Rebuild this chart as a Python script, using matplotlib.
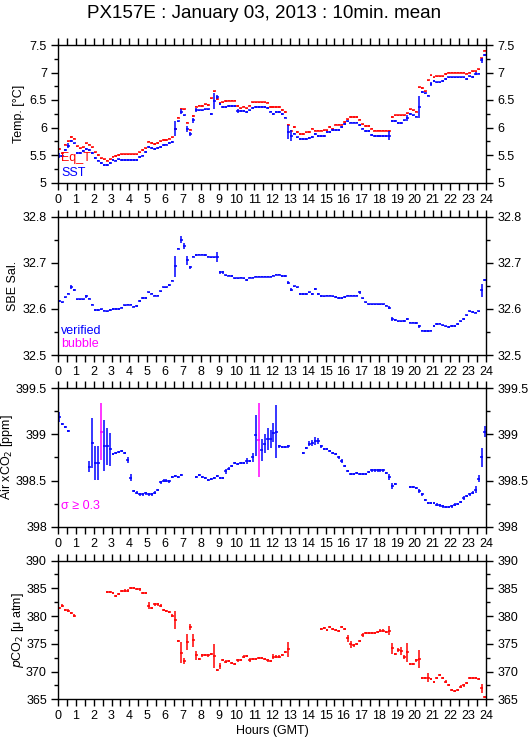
import numpy as np
import matplotlib
matplotlib.use('Agg')
import matplotlib.pyplot as plt
from matplotlib.ticker import MultipleLocator, FuncFormatter

plt.rcParams['font.family'] = ['Liberation Sans', 'DejaVu Sans']

nan = np.nan
title = 'PX157E : January 03, 2013 : 10min. mean'

# 10 min means, one value per bin (144 bins = 24 h)
eq_t = [5.61,5.53,5.69,5.75,5.83,5.80, 5.66,5.62,5.64,5.71,5.69,5.64,
        5.55,5.50,5.44,5.42,5.40,5.42, 5.47,5.48,5.50,5.51,5.51,5.51,
        5.51,5.51,5.51,5.55,5.59,5.62, 5.74,5.72,5.70,5.72,5.75,5.77,
        5.77,5.80,5.82,5.97,6.18,6.34, 6.33,6.09,5.96,6.21,6.38,6.40,
        6.39,6.42,6.41,6.53,6.66,6.51, 6.45,6.46,6.48,6.49,6.49,6.49,
        6.39,6.35,6.38,6.35,6.40,6.46, 6.46,6.46,6.46,6.46,6.45,6.37,
        6.37,6.37,6.37,6.32,6.28,6.05, 5.94,6.01,5.92,5.88,5.88,5.91,
        5.92,5.98,5.94,5.94,5.94,5.95, 5.95,6.01,5.98,6.05,6.05,6.05,
        6.10,6.15,6.19,6.19,6.19,6.14, 6.06,6.03,6.03,5.98,5.94,5.94,
        5.94,5.94,5.94,5.94,6.19,6.22, 6.22,6.22,6.22,6.26,6.33,6.31,
        6.29,6.73,6.72,6.66,6.86,6.95, 6.91,6.93,6.93,6.93,6.97,7.00,
        7.00,7.00,7.00,7.00,7.00,6.98, 7.00,7.02,7.02,7.06,7.26,7.40]
sst = [5.49,5.48,5.59,5.67,5.75,5.71, 5.54,5.54,5.57,5.61,5.59,5.54,
       5.45,5.40,5.36,5.32,5.32,5.36, 5.41,5.40,5.42,5.41,5.41,5.41,
       5.41,5.41,5.41,5.46,5.49,5.55, 5.65,5.63,5.61,5.63,5.65,5.68,
       5.69,5.72,5.74,5.98,6.11,6.29, 6.22,5.97,5.88,6.13,6.32,6.31,
       6.31,6.33,6.33,6.25,6.48,6.55, 6.43,6.37,6.37,6.39,6.39,6.39,
       6.30,6.30,6.30,6.28,6.31,6.36, 6.37,6.37,6.37,6.37,6.36,6.29,
       6.24,6.28,6.28,6.24,6.18,5.92, 5.85,5.89,5.82,5.79,5.79,5.79,
       5.81,5.83,5.88,5.85,5.85,5.85, 5.92,5.92,5.95,5.95,5.95,6.01,
       6.06,6.11,6.09,6.09,6.09,6.04, 5.98,5.94,5.94,5.86,5.85,5.85,
       5.85,5.85,5.85,5.85,6.12,6.12, 6.08,6.08,6.13,6.17,6.25,6.22,
       6.20,6.38,6.65,6.62,6.58,6.79, 6.85,6.82,6.82,6.85,6.88,6.91,
       6.91,6.91,6.91,6.91,6.91,6.88, 6.93,6.92,6.98,6.98,7.22,7.32]
sst_err = {0:0.05, 3:0.04, 39:0.14, 41:0.04, 43:0.05, 44:0.04, 45:0.05, 46:0.04,
           52:0.14, 53:0.04, 60:0.03, 77:0.12, 78:0.1, 111:0.08, 117:0.06,
           121:0.2, 125:0.03, 140:0.03, 142:0.05}

sal = [32.617,32.614,32.625,32.633,32.647,32.641, 32.621,32.621,32.621,32.627,32.622,32.609,
       32.598,32.598,32.599,32.596,32.595,32.598, 32.600,32.600,32.600,32.603,32.608,32.609,
       32.609,32.605,32.606,32.617,32.624,32.624, 32.636,32.633,32.629,32.629,32.638,32.647,
       32.647,32.652,32.661,32.692,32.731,32.750, 32.736,32.705,32.690,32.713,32.717,32.718,
       32.718,32.717,32.713,32.712,32.712,32.712, 32.679,32.679,32.673,32.672,32.671,32.666,
       32.666,32.668,32.666,32.663,32.668,32.668, 32.670,32.670,32.670,32.670,32.670,32.670,
       32.672,32.674,32.674,32.671,32.671,32.657, 32.642,32.649,32.647,32.632,32.632,32.632,
       32.636,32.632,32.643,32.632,32.628,32.627, 32.629,32.629,32.627,32.626,32.624,32.624,
       32.626,32.629,32.629,32.629,32.629,32.636, 32.623,32.614,32.610,32.610,32.610,32.610,
       32.610,32.610,32.607,32.603,32.578,32.576, 32.573,32.573,32.574,32.578,32.570,32.570,
       32.569,32.562,32.553,32.552,32.552,32.553, 32.563,32.567,32.568,32.564,32.562,32.561,
       32.563,32.563,32.567,32.573,32.578,32.586, 32.595,32.593,32.592,32.595,32.640,32.663]
sal_err = {0:0.003, 4:0.004, 9:0.003, 39:0.023, 41:0.008, 42:0.006, 43:0.01, 44:0.004,
           53:0.011, 54:0.004, 55:0.004, 77:0.004, 78:0.004, 86:0.003, 101:0.003,
           111:0.003, 112:0.004, 117:0.003, 121:0.004, 142:0.015}

xco2 = [399.19,399.11,399.08,399.04,nan,nan, nan,nan,nan,nan,398.65,398.91,
        398.69,398.69,399.03,398.88,398.87,398.84, 398.79,398.80,398.81,398.82,398.80,398.72,
        398.53,398.39,398.37,398.35,398.35,398.36, 398.35,398.35,398.37,398.40,398.48,398.50,
        398.50,398.49,398.54,398.55,398.54,398.56, nan,nan,nan,nan,398.54,398.56,
        398.54,398.53,398.51,398.52,398.53,398.55, 398.53,398.53,398.60,398.63,398.66,398.69,
        398.68,398.69,398.69,398.71,398.71,398.75, 398.99,398.94,398.83,398.90,398.95,398.95,
        399.02,399.03,398.87,398.86,398.86,398.87, nan,nan,nan,nan,398.80,398.85,
        398.90,398.91,398.93,398.93,398.87,398.84, 398.84,398.82,398.80,398.79,398.75,398.71,
        398.66,398.60,398.57,398.57,398.58,398.57, 398.57,398.57,398.59,398.61,398.61,398.61,
        398.61,398.61,398.58,398.54,398.44,398.46, nan,nan,nan,nan,398.43,398.43,
        398.42,398.39,398.35,398.29,398.26,398.26, 398.26,398.24,398.23,398.22,398.21,398.21,
        398.22,398.24,398.25,398.27,398.31,398.33, 398.35,398.37,398.40,398.52,398.75,399.03]
xco2_err = {0:0.05, 10:0.06, 11:0.27, 12:0.18, 13:0.18, 14:0.31, 15:0.28, 16:0.2, 17:0.18,
            23:0.03, 24:0.04, 34:0.02, 56:0.03, 63:0.03, 65:0.05, 66:0.22, 67:0.40,
            68:0.12, 69:0.1, 70:0.12, 71:0.1, 72:0.1, 73:0.29, 84:0.03, 85:0.03, 86:0.04,
            87:0.03, 95:0.02, 111:0.03, 112:0.03, 121:0.02, 136:0.02, 140:0.04,
            141:0.04, 142:0.1, 143:0.06}

pco2 = [381.5,381.9,381.1,381.0,380.5,380.1, nan,nan,nan,nan,nan,nan,
        nan,nan,nan,nan,384.3,384.3, 384.2,383.6,384.0,384.5,384.6,384.6,
        385.1,385.1,384.9,384.8,384.2,384.1, 381.9,381.5,382.1,382.1,381.9,381.1,
        380.9,380.7,380.1,379.3,375.5,373.4, 371.9,375.3,378.0,375.6,372.9,372.2,
        372.9,373.0,372.9,373.2,372.8,370.3, 371.0,372.1,371.8,371.9,371.5,371.4,
        372.0,372.1,372.7,372.8,372.1,372.3, 372.3,372.4,372.4,372.2,372.0,371.9,
        372.7,372.7,372.7,373.0,373.5,374.0, nan,nan,nan,nan,nan,nan,
        nan,nan,nan,nan,377.7,377.9, 377.5,378.0,377.7,377.5,377.3,378.1,
        377.7,376.0,374.9,374.7,375.0,375.5, 376.6,377.0,377.0,377.0,377.0,377.1,
        377.4,377.4,377.1,377.4,374.2,373.1, 373.9,373.7,372.6,373.5,371.4,371.4,
        372.0,372.2,368.9,368.9,368.9,368.7, 368.1,368.9,369.4,368.9,368.2,367.6,
        366.7,366.5,366.7,367.3,367.5,367.9, 368.8,368.8,368.8,368.7,367.0,365.4]
pco2_err = {1:0.3, 30:0.6, 39:1.6, 41:1.9, 42:0.6, 43:1.5, 44:0.5, 45:1.2, 46:0.8,
            52:2.1, 54:0.5, 62:0.3, 64:0.4, 72:0.4, 77:1.3, 97:0.6, 98:0.6, 102:0.3,
            111:0.9, 112:1.0, 114:0.4, 115:0.7, 116:0.4, 117:1.7, 121:1.6, 124:0.8, 142:0.8}

hours = np.arange(144) / 6.0 + 1 / 12.0


def errs(big, small):
    e = np.full(144, small)
    for k, v in big.items():
        e[k] = v
    return e


def draw(ax, vals, e, color, mask=None):
    y = np.array(vals, dtype=float)
    t = hours
    if mask is not None:
        y, t, e = y[mask], t[mask], e[mask]
    ax.errorbar(t, y, xerr=1 / 12.0, yerr=e, fmt='none', ecolor=color,
                elinewidth=1.1, capsize=0)


def setup(ax, lo, hi, major, minor, label, lx):
    ax.set_xlim(0, 24)
    ax.set_ylim(lo, hi)
    ax.xaxis.set_major_locator(MultipleLocator(1))
    ax.xaxis.set_minor_locator(MultipleLocator(0.5))
    ax.yaxis.set_major_locator(MultipleLocator(major))
    ax.yaxis.set_minor_locator(MultipleLocator(minor))
    ax.yaxis.set_major_formatter(FuncFormatter(lambda v, p: '%g' % round(v, 3)))
    ax.tick_params(which='both', direction='out', top=True, right=True,
                   labelright=True, labelsize=9, width=1, pad=3)
    ax.tick_params(which='major', length=5)
    ax.tick_params(axis='x', which='minor', length=5)
    ax.tick_params(axis='y', which='minor', length=3)
    for s in ax.spines.values():
        s.set_linewidth(1)
    ax.set_ylabel(label, fontsize=9)
    # right edge of the rotated label, in pixels from the figure's left edge
    ax.yaxis.set_label_coords((lx - 58) / 428, 0.5)


fig = plt.figure(figsize=(5.29, 7.39), dpi=100)
L, W = 58 / 529, 428 / 529
ax1 = fig.add_axes([L, 1 - 182.5 / 739, W, 137.5 / 739])
ax2 = fig.add_axes([L, 1 - 355 / 739, W, 138.3 / 739])
ax3 = fig.add_axes([L, 1 - 526.7 / 739, W, 138.4 / 739])
ax4 = fig.add_axes([L, 1 - 699.3 / 739, W, 138.7 / 739])

fig.text(0.5, 1 - 13 / 739, title, ha='center', va='center', fontsize=13.5)

# Temperature
setup(ax1, 5, 7.5, 0.5, 0.25, 'Temp. [°C]', 25)
draw(ax1, eq_t, errs({}, 0.012), 'red')
draw(ax1, sst, errs(sst_err, 0.015), 'blue')
ax1.text(0.008, 0.16, 'Eq_T', color='red', fontsize=9, transform=ax1.transAxes)
ax1.text(0.008, 0.05, 'SST', color='blue', fontsize=9, transform=ax1.transAxes)

# Salinity
setup(ax2, 32.5, 32.8, 0.1, 0.05, 'SBE Sal.', 19)
draw(ax2, sal, errs(sal_err, 0.0015), 'blue')
ax2.text(0.008, 0.15, 'verified', color='blue', fontsize=9, transform=ax2.transAxes)
ax2.text(0.008, 0.055, 'bubble', color='magenta', fontsize=9, transform=ax2.transAxes)

# Air xCO2
setup(ax3, 398, 399.5, 0.5, 0.25, 'Air xCO$_2$ [ppm]', 15)
e3 = errs(xco2_err, 0.012)
draw(ax3, xco2, e3, 'blue', e3 < 0.3)
draw(ax3, xco2, e3, 'magenta', e3 >= 0.3)
ax3.text(0.008, 0.13, 'σ ≥ 0.3', color='magenta', fontsize=9, transform=ax3.transAxes)

# pCO2
setup(ax4, 365, 390, 5, 2.5, '$p$CO$_2$ [μ atm]', 26)
draw(ax4, pco2, errs(pco2_err, 0.2), 'red')
ax4.set_xlabel('Hours (GMT)', fontsize=9, labelpad=2)

fig.savefig('out.png', dpi=100)
